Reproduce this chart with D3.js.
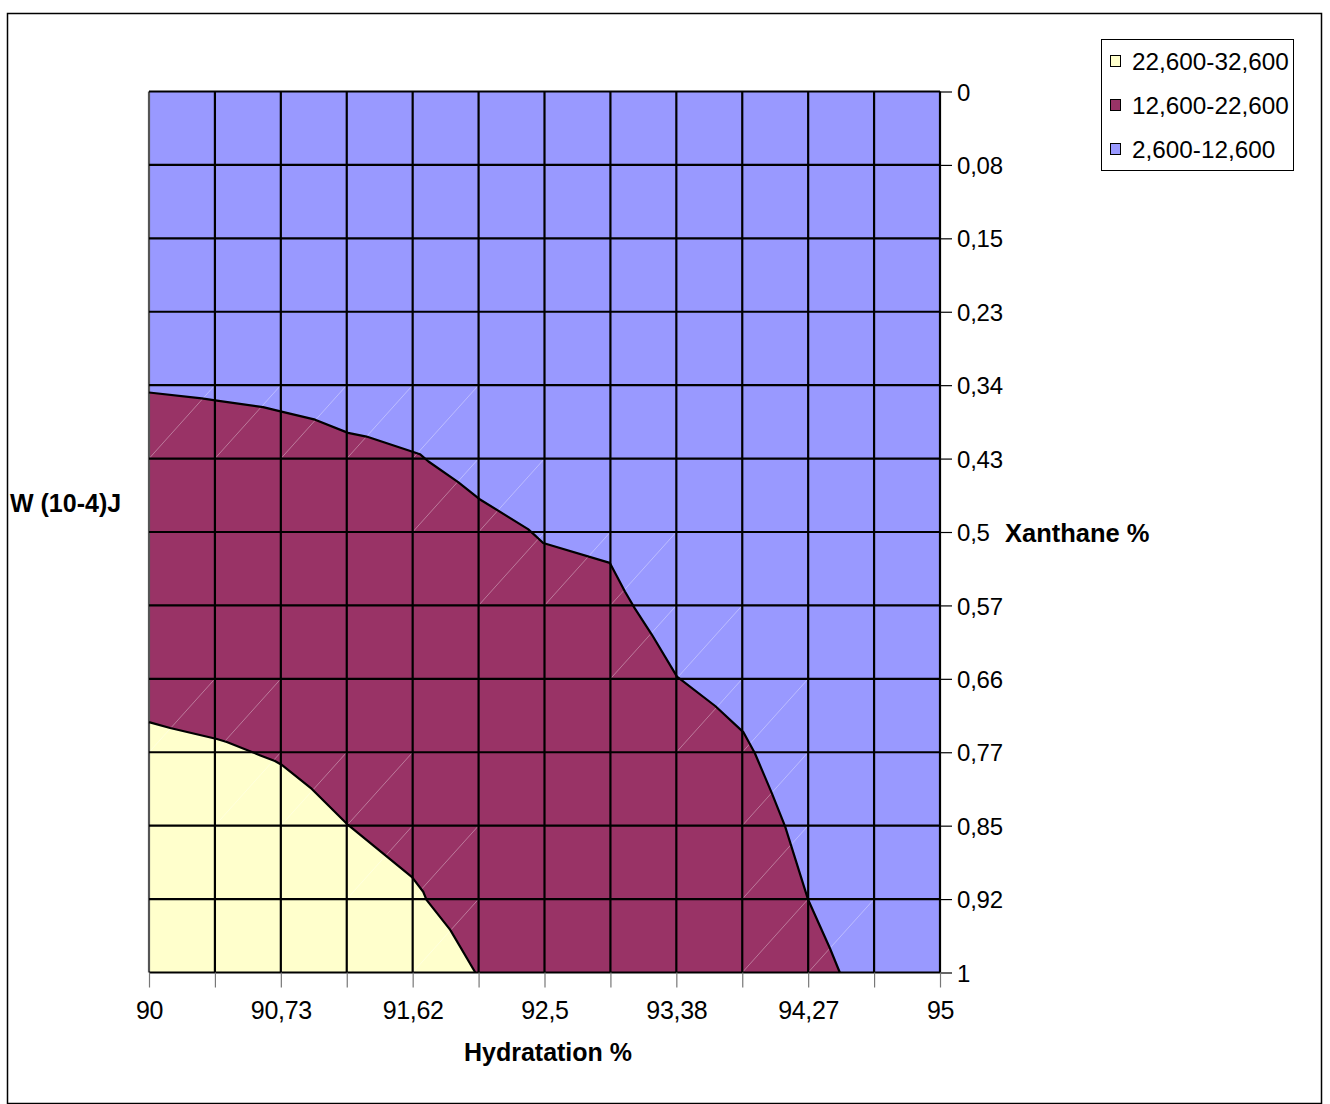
<!DOCTYPE html>
<html>
<head>
<meta charset="utf-8">
<script src="https://cdn.jsdelivr.net/npm/d3@7"></script>
<style>
  body { margin: 0; background: #fff; }
  text { font-family: "Liberation Sans", Arial, sans-serif; }
</style>
</head>
<body>
<svg id="chart" width="1330" height="1104"></svg>
<script>
// ---- data ----
// Hydratation % categories (13 columns of the surface grid); labels shown on every 2nd
const hydrationLabels = ["90", "", "90,73", "", "91,62", "", "92,5", "", "93,38", "", "94,27", "", "95"];
// Xanthane % categories (13 rows)
const xanthaneLabels = ["0", "0,08", "0,15", "0,23", "0,34", "0,43", "0,5", "0,57", "0,66", "0,77", "0,85", "0,92", "1"];
// Legend bands (W (10-4)J)
const bandNames = ["22,600-32,600", "12,600-22,600", "2,600-12,600"];
// Contour boundary between 2,600-12,600 and 12,600-22,600 ([hydration index, xanthane index])
const boundary12600 = [[0, 4.10], [0.80, 4.18], [1.03, 4.21], [1.73, 4.30], [2.01, 4.36], [2.52, 4.47], [3.02, 4.65], [3.30, 4.70],
  [4.01, 4.91], [4.11, 4.94], [4.24, 5.04], [4.69, 5.32], [5.01, 5.55], [5.75, 5.96], [5.86, 6.05], [5.98, 6.15],
  [6.99, 6.42], [7.22, 6.81], [7.37, 7.04], [7.63, 7.40], [8.01, 7.97], [8.59, 8.37], [9.02, 8.73], [9.19, 9.01],
  [9.45, 9.56], [9.65, 10.01], [10.0, 11.01], [10.33, 11.67], [10.48, 12]];
// Contour boundary between 12,600-22,600 and 22,600-32,600
const boundary22600 = [[0, 8.59], [0.32, 8.67], [1.03, 8.82], [1.18, 8.86], [1.68, 9.04], [1.91, 9.12], [2.01, 9.17],
  [2.47, 9.50], [3.02, 9.99], [3.99, 10.70], [4.16, 10.90], [4.21, 11.01], [4.57, 11.42], [4.95, 12]];

// ---- styles ----
const colors = { high: "#FFFFCC", mid: "#993366", low: "#9999FF" };
const legendColors = [colors.high, colors.mid, colors.low];

const svg = d3.select("#chart");
const nX = hydrationLabels.length - 1, nY = xanthaneLabels.length - 1;
const x = d3.scaleLinear().domain([0, nX]).range([149, 940]);
const y = d3.scaleLinear().domain([0, nY]).range([91.5, 972.5]);

// outer frame
svg.append("rect").attr("x", 7.5).attr("y", 13.5).attr("width", 1314).attr("height", 1090)
  .attr("fill", "#fff").attr("stroke", "#000").attr("stroke-width", 1.5);

const plot = svg.append("g");
// base band
plot.append("rect").attr("x", x(0)).attr("y", y(0)).attr("width", x(nX) - x(0)).attr("height", y(nY) - y(0))
  .attr("fill", colors.low);
const line = d3.line().x(d => x(d[0])).y(d => y(d[1]));
plot.append("path").attr("d", line(boundary12600.concat([[0, nY]])) + "Z").attr("fill", colors.mid);
plot.append("path").attr("d", line(boundary22600.concat([[0, nY]])) + "Z").attr("fill", colors.high);

// faint triangulation diagonals in cells crossed by contours
const cells = new Set();
[boundary12600, boundary22600].forEach(b => {
  for (let i = 0; i < b.length - 1; i++) {
    for (let t = 0; t <= 1; t += 0.01) {
      const px = b[i][0] + (b[i + 1][0] - b[i][0]) * t;
      const py = b[i][1] + (b[i + 1][1] - b[i][1]) * t;
      const c = Math.min(nX - 1, Math.floor(px)), r = Math.min(nY - 1, Math.floor(py));
      cells.add(c + "," + r);
    }
  }
});
plot.append("g").selectAll("line").data([...cells].map(s => s.split(",").map(Number))).join("line")
  .attr("x1", d => x(d[0])).attr("y1", d => y(d[1] + 1))
  .attr("x2", d => x(d[0] + 1)).attr("y2", d => y(d[1]))
  .attr("stroke", "#fff").attr("stroke-opacity", 0.35).attr("stroke-width", 1);

// grid
const grid = plot.append("g").attr("stroke", "#000").attr("stroke-width", 2.2);
grid.selectAll("line.v").data(d3.range(nX + 1)).join("line").attr("class", "v")
  .attr("x1", d => x(d)).attr("x2", d => x(d)).attr("y1", y(0)).attr("y2", y(nY))
  .attr("stroke", d => d === 0 ? "#555" : "#000");
grid.selectAll("line.h").data(d3.range(nY + 1)).join("line").attr("class", "h")
  .attr("y1", d => y(d)).attr("y2", d => y(d)).attr("x1", x(0)).attr("x2", x(nX));

// contour lines
[boundary12600, boundary22600].forEach(b => {
  plot.append("path").attr("d", line(b)).attr("fill", "none").attr("stroke", "#000").attr("stroke-width", 2.2)
    .attr("stroke-linejoin", "round");
});

// right axis (Xanthane %)
const yAxis = svg.append("g").attr("transform", `translate(${x(nX)},0)`)
  .call(d3.axisRight(y).tickValues(d3.range(nY + 1)).tickFormat(i => xanthaneLabels[i]).tickSize(12).tickPadding(5));
yAxis.select(".domain").remove();
yAxis.selectAll("line").attr("stroke", "#000").attr("stroke-width", 1.2);
yAxis.selectAll("text").attr("font-size", 24).attr("fill", "#000").attr("font-family", "Liberation Sans, Arial")
  .attr("letter-spacing", -0.2).attr("dy", "0.36em");

// bottom axis (Hydratation %)
const xAxis = svg.append("g").attr("transform", `translate(0,${y(nY)})`)
  .call(d3.axisBottom(x).tickValues(d3.range(nX + 1)).tickFormat(i => hydrationLabels[i]).tickSize(15).tickPadding(14));
xAxis.select(".domain").remove();
xAxis.selectAll("line").attr("stroke", "#777").attr("stroke-width", 1.2);
xAxis.selectAll("text").attr("font-size", 25).attr("fill", "#000").attr("font-family", "Liberation Sans, Arial")
  .attr("letter-spacing", -0.3);

// titles
svg.append("text").attr("x", 10).attr("y", 512).attr("font-size", 25).attr("font-weight", "bold")
  .text("W (10-4)J");
svg.append("text").attr("x", 1005).attr("y", 542).attr("font-size", 25.5).attr("font-weight", "bold")
  .text("Xanthane %");
svg.append("text").attr("x", 548).attr("y", 1061).attr("text-anchor", "middle").attr("font-size", 25)
  .attr("font-weight", "bold").text("Hydratation %");

// legend
const legend = svg.append("g");
legend.append("rect").attr("x", 1101.5).attr("y", 39.5).attr("width", 192).attr("height", 131)
  .attr("fill", "#fff").attr("stroke", "#000").attr("stroke-width", 1);
const items = legend.selectAll("g.item").data(bandNames).join("g").attr("class", "item")
  .attr("transform", (d, i) => `translate(0,${61 + i * 44})`);
items.append("rect").attr("x", 1110.5).attr("y", -5.5).attr("width", 10).attr("height", 11)
  .attr("fill", (d, i) => legendColors[i]).attr("stroke", "#000").attr("stroke-width", 1);
items.append("text").attr("x", 1132).attr("y", 8.5).attr("font-size", 24.3)
  .text(d => d);
</script>
</body>
</html>
